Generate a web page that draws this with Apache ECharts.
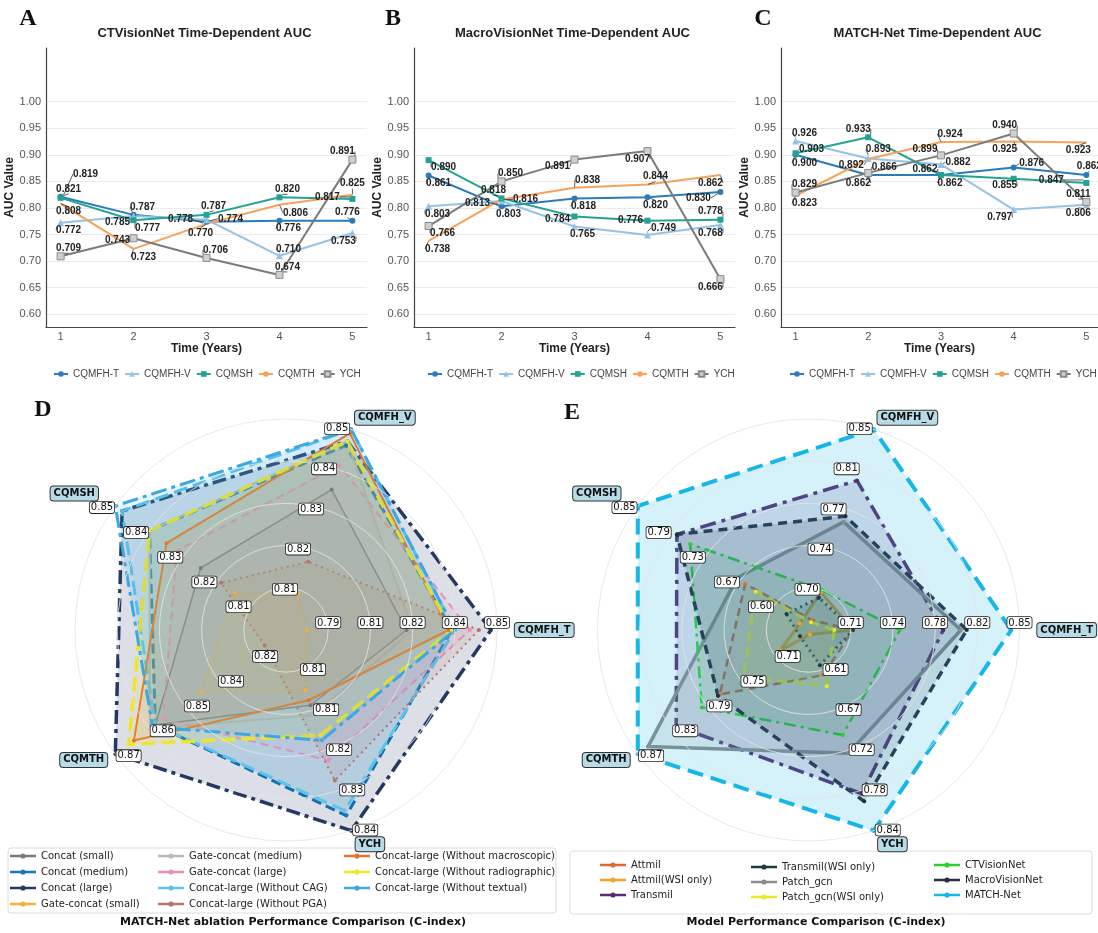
<!DOCTYPE html>
<html>
<head>
<meta charset="utf-8">
<script src="https://cdn.jsdelivr.net/npm/echarts@6/dist/echarts.min.js"></script>
<style>
  html, body { margin: 0; padding: 0; background: #fff; }
  #chart { width: 1098px; height: 933px; }
</style>
</head>
<body>
<div id="chart"></div>
<script>
// ---------- Time-dependent AUC (panels A-C) ----------
const years = [1, 2, 3, 4, 5];
const cohorts = ['CQMFH-T', 'CQMFH-V', 'CQMSH', 'CQMTH', 'YCH'];
const aucTicks = [0.60, 0.65, 0.70, 0.75, 0.80, 0.85, 0.90, 0.95, 1.00];

// rows follow `cohorts`, columns follow `years`
const aucCTVisionNet = [
  [0.821, 0.787, 0.774, 0.776, 0.776],
  [0.772, 0.785, 0.778, 0.710, 0.753],
  [0.819, 0.777, 0.787, 0.820, 0.817],
  [0.808, 0.723, 0.770, 0.806, 0.825],
  [0.709, 0.743, 0.706, 0.674, 0.891]
];
const aucMacroVisionNet = [
  [0.861, 0.803, 0.818, 0.820, 0.830],
  [0.803, 0.813, 0.765, 0.749, 0.768],
  [0.890, 0.818, 0.784, 0.776, 0.778],
  [0.738, 0.816, 0.838, 0.844, 0.862],
  [0.766, 0.850, 0.891, 0.907, 0.666]
];
const aucMatchNet = [
  [0.900, 0.862, 0.862, 0.876, 0.862],
  [0.926, 0.893, 0.882, 0.797, 0.806],
  [0.903, 0.933, 0.862, 0.855, 0.847],
  [0.823, 0.892, 0.924, 0.925, 0.923],
  [0.829, 0.866, 0.899, 0.940, 0.811]
];

// ---------- C-index radars (panels D, E) ----------
const centers = ['CQMFH_T', 'CQMFH_V', 'CQMSH', 'CQMTH', 'YCH'];

const ablationModels = [
  'Concat (small)', 'Concat (medium)', 'Concat (large)', 'Gate-concat (small)',
  'Gate-concat (medium)', 'Gate-concat (large)', 'Concat-large (Without CAG)', 'Concat-large (Without PGA)',
  'Concat-large (Without macroscopic)', 'Concat-large (Without radiographic)', 'Concat-large (Without textual)'
];
// rows follow `ablationModels`, columns follow `centers`
const ablationCIndex = [
  [0.820, 0.835, 0.825, 0.859, 0.813],
  [0.835, 0.846, 0.840, 0.859, 0.835],
  [0.848, 0.847, 0.848, 0.874, 0.838],
  [0.787, 0.809, 0.815, 0.842, 0.810],
  [0.822, 0.847, 0.840, 0.861, 0.815],
  [0.841, 0.841, 0.832, 0.856, 0.824],
  [0.836, 0.850, 0.848, 0.859, 0.834],
  [0.844, 0.817, 0.819, 0.818, 0.828],
  [0.834, 0.849, 0.835, 0.867, 0.812],
  [0.835, 0.847, 0.840, 0.869, 0.819],
  [0.836, 0.850, 0.850, 0.860, 0.820]
];
const ablationAxisMin = [0.780, 0.800, 0.800, 0.810, 0.798];
const ablationAxisMax = [0.850, 0.850, 0.850, 0.874, 0.838];

const compareModels = [
  'Attmil', 'Attmil(WSI only)', 'Transmil', 'Transmil(WSI only)', 'Patch_gcn',
  'Patch_gcn(WSI only)', 'CTVisionNet', 'MacroVisionNet', 'MATCH-Net'
];
const compareCIndex = [
  [0.710, 0.675, 0.657, 0.774, 0.616],
  [0.710, 0.700, 0.558, 0.703, 0.558],
  [0.787, 0.800, 0.781, 0.825, 0.786],
  [0.710, 0.695, 0.582, 0.680, 0.602],
  [0.802, 0.763, 0.672, 0.858, 0.728],
  [0.694, 0.673, 0.638, 0.746, 0.632],
  [0.750, 0.702, 0.757, 0.795, 0.702],
  [0.807, 0.768, 0.781, 0.776, 0.797],
  [0.845, 0.846, 0.852, 0.870, 0.839]
];
const compareAxisMin = [0.672, 0.666, 0.542, 0.670, 0.5515];
const compareAxisMax = [0.852, 0.846, 0.852, 0.870, 0.839];

// ---------- presentation ----------
const SANS = '"Liberation Sans", Arial, sans-serif';
const MPL = '"DejaVu Sans", sans-serif';

// value-label shift [dx, dy] for each point, rows follow `cohorts`
const labelShiftA = [
  [[8, -8], [9, -8], [24, -3], [9, 8], [-5, -8]],
  [[8, 7], [-16, 6], [-26, 0], [9, -7], [-9, 8]],
  [[25, -24], [14, 8], [7, -9], [8, -8], [-25, -2]],
  [[8, 8], [10, 8], [-6, 9], [16, 8], [0, -11]],
  [[8, -8], [-16, 2], [9, -8], [8, -8], [-10, -8]]
];
const labelShiftB = [
  [[10, 8], [7, 8], [9, 8], [8, 8], [-22, 6]],
  [[9, 8], [-24, 2], [8, 8], [16, -7], [-10, 8]],
  [[15, 7], [-8, -8], [-17, 3], [-17, 0], [-10, -8]],
  [[9, 8], [24, 0], [13, -8], [8, -8], [-10, 8]],
  [[14, 7], [9, -8], [-17, 7], [-10, 8], [-10, 8]]
];
const labelShiftC = [
  [[9, 8], [-10, 8], [9, 8], [18, -4], [3, -9]],
  [[9, -8], [10, -9], [17, -2], [-14, 8], [-8, 8]],
  [[16, -4], [-10, -8], [-16, -6], [-9, 7], [-35, -3]],
  [[9, 8], [-17, 6], [9, -8], [-9, 8], [-8, 8]],
  [[9, -8], [16, -6], [-16, -6], [-9, -8], [-8, -8]]
];

const cohortColors = ['#2b7bba', '#94c3e6', '#24a394', '#f5a35a', '#7b7b7b'];
const cohortSymbols = ['circle', 'triangle', 'rect', 'circle', 'rect'];
const cohortSymbolSizes = [6, 7, 6, 1, 7];

const panels = [
  { title: 'CTVisionNet Time-Dependent AUC', auc: aucCTVisionNet, shift: labelShiftA,
    left: 46, width: 321, xMax: 5.2, letter: 'A', letterX: 28, legendLeft: 53 },
  { title: 'MacroVisionNet Time-Dependent AUC', auc: aucMacroVisionNet, shift: labelShiftB,
    left: 414, width: 321, xMax: 5.2, letter: 'B', letterX: 393, legendLeft: 427 },
  { title: 'MATCH-Net Time-Dependent AUC', auc: aucMatchNet, shift: labelShiftC,
    left: 781, width: 317, xMax: 5.16, letter: 'C', letterX: 763, legendLeft: 789 }
];

const ablationStyles = [
  { color: '#7a7a7a', width: 1.5, type: 'solid' },
  { color: '#1479bd', width: 3, type: [10, 5] },
  { color: '#243a62', width: 3.5, type: [14, 5, 4, 5] },
  { color: '#f2b233', width: 2.5, type: [2, 4] },
  { color: '#b9b9b9', width: 2, type: 'solid' },
  { color: '#e690bb', width: 2, type: [8, 5] },
  { color: '#5cc4ec', width: 3, type: [14, 6] },
  { color: '#b9736c', width: 2, type: [2, 4] },
  { color: '#e8732a', width: 2, type: 'solid' },
  { color: '#efe52b', width: 3.5, type: [14, 6] },
  { color: '#3da8e2', width: 3, type: [16, 5, 4, 5] }
];
const compareStyles = [
  { color: '#de6a34', width: 2.5, type: [8, 5], area: 0.12 },
  { color: '#f5a623', width: 3, type: 'solid', area: 0.12 },
  { color: '#5b2c6e', width: 3.5, type: [16, 6, 4, 6], area: 0.16 },
  { color: '#1d3a40', width: 3, type: [2, 4], area: 0.12 },
  { color: '#8c8c8c', width: 3.5, type: 'solid', area: 0.16 },
  { color: '#ebe82c', width: 3, type: [10, 6], area: 0.12 },
  { color: '#2bd02b', width: 2.5, type: [12, 5, 3, 5], area: 0.1 },
  { color: '#2a2a3c', width: 3.5, type: [9, 6], area: 0.16 },
  { color: '#17b6e9', width: 4, type: [16, 8], area: 0.18 }
];

const chart = echarts.init(document.getElementById('chart'));

const grids = [], xAxes = [], yAxes = [], series = [], legends = [], graphics = [];

panels.forEach(function (p, pi) {
  grids.push({ left: p.left, top: 48, width: p.width, height: 279 });
  xAxes.push({
    type: 'value', gridIndex: pi, min: 0.8, max: p.xMax,
    name: 'Time (Years)', nameLocation: 'middle', nameGap: 13,
    nameTextStyle: { fontFamily: SANS, fontWeight: 'bold', fontSize: 12, color: '#222' },
    axisLine: { show: true, lineStyle: { color: '#444', width: 1.2 } },
    axisTick: { show: false, customValues: years },
    axisLabel: { customValues: years, formatter: function (v) { return String(v); },
      fontFamily: SANS, fontSize: 11, color: '#555', margin: 4 },
    splitLine: { show: false }
  });
  yAxes.push({
    type: 'value', gridIndex: pi, min: 0.576, max: 1.101,
    name: 'AUC Value', nameLocation: 'middle', nameGap: 25,
    nameTextStyle: { fontFamily: SANS, fontWeight: 'bold', fontSize: 12, color: '#222' },
    axisLine: { show: true, lineStyle: { color: '#444', width: 1.2 } },
    axisTick: { show: false, customValues: aucTicks },
    axisLabel: { customValues: aucTicks, formatter: function (v) { return v.toFixed(2); },
      fontFamily: SANS, fontSize: 11, color: '#555', margin: 5 },
    splitLine: { show: true, lineStyle: { color: '#ebebeb', width: 1 } }
  });
  cohorts.forEach(function (name, ci) {
    const shift = p.shift[ci];
    const isYch = ci === 4;
    series.push({
      type: 'line', name: name, xAxisIndex: pi, yAxisIndex: pi,
      data: years.map(function (yr, i) { return [yr, p.auc[ci][i]]; }),
      symbol: cohortSymbols[ci], symbolSize: cohortSymbolSizes[ci],
      lineStyle: { color: cohortColors[ci], width: 2 },
      itemStyle: isYch ? { color: '#cfcfcf', borderColor: '#8a8a8a', borderWidth: 1 }
                       : { color: cohortColors[ci] },
      label: {
        show: true, position: 'inside',
        formatter: function (prm) { return prm.value[1].toFixed(3); },
        fontFamily: SANS, fontWeight: 'bold', fontSize: 10, color: '#222'
      },
      labelLayout: function (prm) {
        const s = shift[prm.dataIndex];
        return { dx: s[0], dy: s[1] };
      },
      labelLine: { show: true, lineStyle: { color: '#333', width: 0.8 } },
      emphasis: { disabled: true }
    });
  });
  legends.push({
    data: cohorts, left: p.legendLeft, top: 369, width: 340, padding: 0,
    itemWidth: 14, itemHeight: 7, itemGap: 5,
    textStyle: { fontFamily: SANS, fontSize: 10, color: '#444' }
  });
  graphics.push({
    type: 'text', x: p.left + p.width / 2 - 2, y: 33,
    style: { text: p.title, font: 'bold 13px ' + SANS, fill: '#222',
      textAlign: 'center', textVerticalAlign: 'middle', align: 'center', verticalAlign: 'middle' }
  });
  graphics.push({
    type: 'text', x: p.letterX, y: 19,
    style: { text: p.letter, font: 'bold 24px "Liberation Serif", serif', fill: '#111',
      textAlign: 'center', textVerticalAlign: 'middle', align: 'center', verticalAlign: 'middle' }
  });
});

// radar coordinate systems, drawn above the polygons so rings and tick boxes stay visible
function radarBase(center, mins, maxs) {
  return {
    z: 3,
    center: center, radius: 211, startAngle: 0, splitNumber: 5, shape: 'circle',
    indicator: centers.map(function (n, i) { return { name: n, min: mins[i], max: maxs[i] }; }),
    axisNameGap: 10,
    axisName: {
      fontFamily: MPL, fontWeight: 'bold', fontSize: 10, color: '#111',
      backgroundColor: '#b7dce7', borderColor: '#333', borderWidth: 1, borderRadius: 3, padding: [2, 3]
    },
    axisLabel: {
      show: true, showMinLabel: false, margin: 2,
      formatter: function (v) { return Number(v).toFixed(2); },
      fontFamily: MPL, fontSize: 10, color: '#111',
      backgroundColor: '#fff', borderColor: '#222', borderWidth: 0.8, borderRadius: 2, padding: [1, 1, 0, 1]
    },
    axisLine: { show: false },
    axisTick: { show: false },
    splitLine: { lineStyle: { color: 'rgba(228,228,228,0.85)', width: 1 } },
    splitArea: { show: false }
  };
}
const radars = [
  radarBase([286, 630], ablationAxisMin, ablationAxisMax),
  radarBase([808.5, 630], compareAxisMin, compareAxisMax)
];

ablationModels.forEach(function (name, i) {
  const st = ablationStyles[i];
  series.push({
    type: 'radar', radarIndex: 0, name: name,
    symbol: 'circle', symbolSize: 4,
    lineStyle: { color: st.color, width: st.width, type: st.type },
    itemStyle: { color: st.color },
    areaStyle: { color: st.color, opacity: i === 2 ? 0.16 : 0.13 },
    emphasis: { disabled: true },
    data: [{ name: name, value: ablationCIndex[i] }]
  });
});
compareModels.forEach(function (name, i) {
  const st = compareStyles[i];
  series.push({
    type: 'radar', radarIndex: 1, name: name,
    symbol: 'circle', symbolSize: 4,
    lineStyle: { color: st.color, width: st.width, type: st.type },
    itemStyle: { color: st.color },
    areaStyle: { color: st.color, opacity: st.area },
    emphasis: { disabled: true },
    data: [{ name: name, value: compareCIndex[i] }]
  });
});

// legends of the radars, one block per column
const lineDotIcon = 'path://M0,3.6H30V6.4H0Z M15,2A3,3,0,1,1,15,8A3,3,0,1,1,15,2Z';
function radarLegend(names, left, top, gap) {
  return {
    data: names, orient: 'vertical', left: left, top: top, padding: 0,
    itemWidth: 26, itemHeight: 6, itemGap: gap, icon: lineDotIcon,
    itemStyle: { borderWidth: 0 }, lineStyle: { width: 0 },
    textStyle: { fontFamily: MPL, fontSize: 10, color: '#222' }
  };
}
legends.push(radarLegend(ablationModels.slice(0, 4), 10, 851, 6));
legends.push(radarLegend(ablationModels.slice(4, 8), 158, 851, 6));
legends.push(radarLegend(ablationModels.slice(8, 11), 344, 851, 6));
legends.push(radarLegend(compareModels.slice(0, 3), 600, 860, 5));
legends.push(radarLegend(compareModels.slice(3, 6), 751, 862, 5));
legends.push(radarLegend(compareModels.slice(6, 9), 934, 860, 5));

// legend frames, panel letters and captions of the radars
graphics.push({ type: 'rect', shape: { x: 8, y: 848, width: 548, height: 65, r: 3 },
  style: { fill: 'rgba(255,255,255,0.9)', stroke: '#dcdcdc', lineWidth: 1 }, z: -1 });
graphics.push({ type: 'rect', shape: { x: 570, y: 851, width: 522, height: 63, r: 3 },
  style: { fill: 'rgba(255,255,255,0.9)', stroke: '#dcdcdc', lineWidth: 1 }, z: -1 });
[['D', 43, 410], ['E', 572, 413]].forEach(function (t) {
  graphics.push({ type: 'text', x: t[1], y: t[2],
    style: { text: t[0], font: 'bold 24px "Liberation Serif", serif', fill: '#111',
      textAlign: 'center', textVerticalAlign: 'middle', align: 'center', verticalAlign: 'middle' } });
});
[['MATCH-Net ablation Performance Comparison (C-index)', 293, 922],
 ['Model Performance Comparison (C-index)', 816, 922]].forEach(function (t) {
  graphics.push({ type: 'text', x: t[1], y: t[2],
    style: { text: t[0], font: 'bold 11px ' + MPL, fill: '#111',
      textAlign: 'center', textVerticalAlign: 'middle', align: 'center', verticalAlign: 'middle' } });
});

chart.setOption({
  animation: false,
  backgroundColor: '#ffffff',
  grid: grids,
  xAxis: xAxes,
  yAxis: yAxes,
  radar: radars,
  legend: legends,
  graphic: { elements: graphics },
  series: series
});
</script>
</body>
</html>
